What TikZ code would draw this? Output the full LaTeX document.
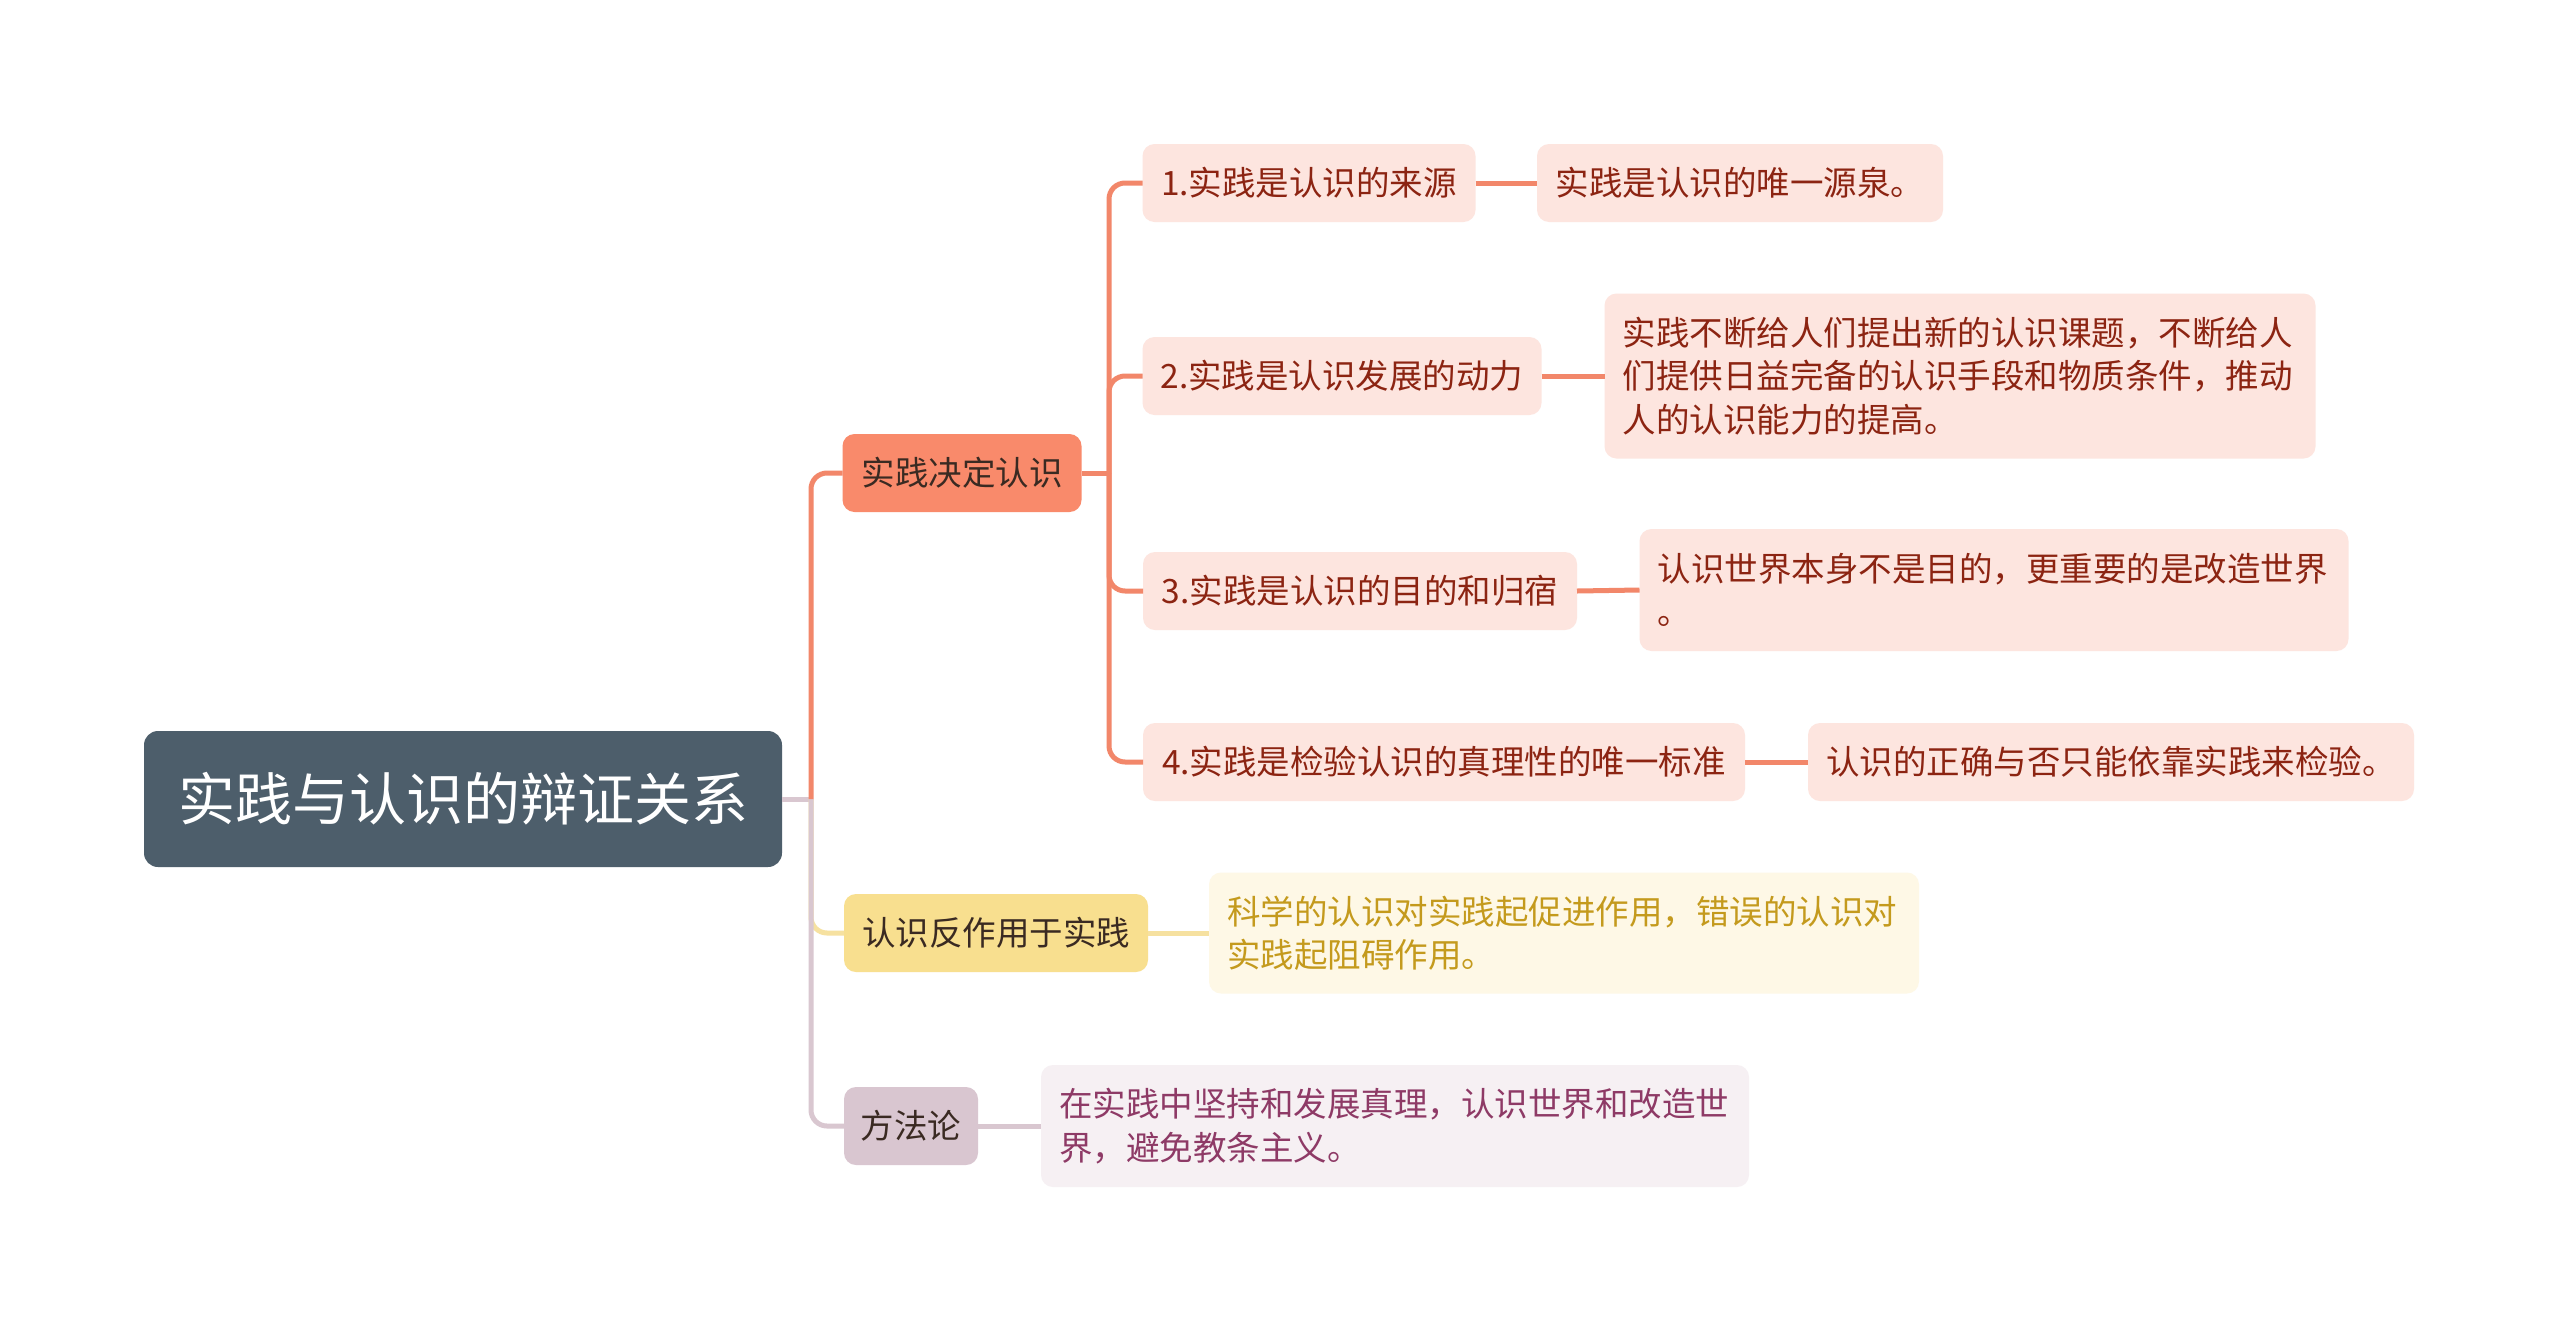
\documentclass[tikz,border=0pt]{standalone}
\usepackage{fontspec}
\setmainfont{Noto Sans CJK SC}
\definecolor{rootfill}{HTML}{4D5E6B}
\definecolor{oline}{HTML}{F2876A}
\definecolor{bofill}{HTML}{F98A6B}
\definecolor{cfill}{HTML}{FDE5DF}
\definecolor{ctext}{HTML}{8C2412}
\definecolor{yline}{HTML}{F6E1A0}
\definecolor{byfill}{HTML}{F8DF8F}
\definecolor{lyfill}{HTML}{FEF8E6}
\definecolor{lytext}{HTML}{C49A1D}
\definecolor{mline}{HTML}{D9C7D0}
\definecolor{bmfill}{HTML}{D9C6D0}
\definecolor{lmfill}{HTML}{F6F0F3}
\definecolor{lmtext}{HTML}{8E3A66}
\definecolor{btext}{HTML}{3A2A22}
\begin{document}
\begin{tikzpicture}[x=1pt,y=-1pt,
  every node/.style={inner sep=0pt, outer sep=0pt},
  boxbase/.style={rounded corners=12pt, minimum height=78pt, font=\fontsize{33.5}{43.5}\selectfont},
  rootbox/.style={rounded corners=14pt, fill=rootfill, text=white, minimum width=638pt, minimum height=136pt, font=\fontsize{57}{68}\selectfont},
  branchbox/.style={boxbase, text=btext},
  childbox/.style={boxbase, fill=cfill, text=ctext},
  multibox/.style={inner xsep=18pt, align=left},
  link/.style={line width=5pt},
  olink/.style={link, draw=oline},
  ylink/.style={link, draw=yline},
  mlink/.style={link, draw=mline},
  elbow/.style={rounded corners=16pt}
]
\useasboundingbox[fill=white] (0,0) rectangle (2560,1331);

% nodes
\node[rootbox] (root) at (463,799) {实践与认识的辩证关系};
\node[branchbox, fill=bofill, minimum width=239pt] (b1) at (962,473) {实践决定认识};
\node[branchbox, fill=byfill, minimum width=304pt] (b2) at (996,933) {认识反作用于实践};
\node[branchbox, fill=bmfill, minimum width=134pt] (b3) at (911,1126) {方法论};

\node[childbox, minimum width=333pt] (c1) at (1309,183) {1.实践是认识的来源};
\node[childbox, minimum width=406pt] (l1) at (1740,183) {实践是认识的唯一源泉。};
\node[childbox, minimum width=399pt] (c2) at (1342,376) {2.实践是认识发展的动力};
\node[childbox, multibox, text width=675pt, minimum height=165pt] (l2) at (1960,376)
  {实践不断给人们提出新的认识课题，不断给人\\们提供日益完备的认识手段和物质条件，推动\\人的认识能力的提高。};
\node[childbox, minimum width=434pt] (c3) at (1360,591) {3.实践是认识的目的和归宿};
\node[childbox, multibox, text width=673pt, minimum height=122pt] (l3) at (1994,590)
  {认识世界本身不是目的，更重要的是改造世界\\。};
\node[childbox, minimum width=602pt] (c4) at (1444,762) {4.实践是检验认识的真理性的唯一标准};
\node[childbox, minimum width=606pt] (l4) at (2111,762) {认识的正确与否只能依靠实践来检验。};

\node[boxbase, multibox, fill=lyfill, text=lytext, text width=674pt, minimum height=121pt] (l5) at (1564,933)
  {科学的认识对实践起促进作用，错误的认识对\\实践起阻碍作用。};
\node[boxbase, multibox, fill=lmfill, text=lmtext, text width=672pt, minimum height=122pt] (l6) at (1395,1126)
  {在实践中坚持和发展真理，认识世界和改造世\\界，避免教条主义。};

% connectors
\coordinate (t0) at (811,799);
\coordinate (t1) at (1109,473);
\draw[mlink] (root.east) -- (t0);
\draw[ylink, elbow] (t0) |- (b2.west);
\draw[mlink, elbow] (t0) |- (b3.west);
\draw[olink, elbow] (t0) |- (b1.west);

\draw[olink] (b1.east) -- (t1);
\draw[olink, elbow] (t1) |- (c1.west);
\draw[olink, elbow] (t1) |- (c2.west);
\draw[olink, elbow] (t1) |- (c3.west);
\draw[olink, elbow] (t1) |- (c4.west);

\draw[olink] (c1.east) -- (l1.west);
\draw[olink] (c2.east) -- (l2.west);
\draw[olink] (c3.east) -- (l3.west);
\draw[olink] (c4.east) -- (l4.west);
\draw[ylink] (b2.east) -- (l5.west);
\draw[mlink] (b3.east) -- (l6.west);
\end{tikzpicture}
\end{document}
